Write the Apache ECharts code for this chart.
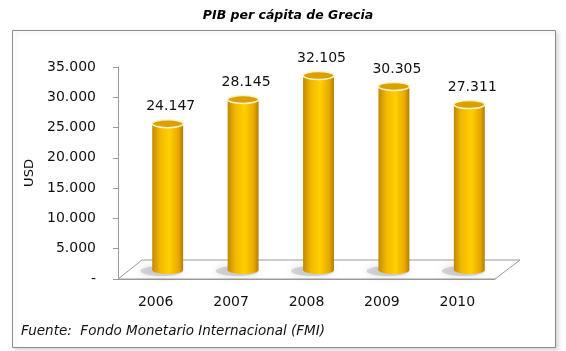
<!DOCTYPE html>
<html>
<head>
<meta charset="utf-8">
<script src="https://cdn.jsdelivr.net/npm/echarts@6/dist/echarts.min.js"></script>
<style>
  html, body { margin: 0; padding: 0; background: #fff; }
  #chart { width: 566px; height: 351px; }
</style>
</head>
<body>
<div id="chart"></div>
<script>
const years = ['2006', '2007', '2008', '2009', '2010'];
const gdpPerCapita = [24147, 28145, 32105, 30305, 27311];
const yTicks = [0, 5000, 10000, 15000, 20000, 25000, 30000, 35000];

const fmt = (v) => (v === 0 ? '-' : String(v).replace(/\B(?=(\d{3})+(?!\d))/g, '.'));

// axes grid and a second grid for the bars, shifted back into the "depth"
const axisGrid = { left: 118, top: 67, width: 377, height: 212 };
const depth = { dx: 12, dy: 9 };

const FONT = 'DejaVu Sans';

function renderCylinder(params, api) {
  const top = api.coord([api.value(0), api.value(1)]);
  const base = api.coord([api.value(0), 0]);
  const w = api.size([1, 0])[0] * 0.41;
  const rx = w / 2;
  const ry = 4;
  const bodyFill = new echarts.graphic.LinearGradient(0, 0, 1, 0, [
    { offset: 0, color: '#C08A05' },
    { offset: 0.25, color: '#F2B800' },
    { offset: 0.55, color: '#FFD000' },
    { offset: 0.85, color: '#E8A800' },
    { offset: 1, color: '#B07E00' },
  ]);
  return {
    type: 'group',
    children: [
      {
        type: 'ellipse',
        shape: { cx: base[0] - 6, cy: base[1] + 1, rx: rx + 6, ry: ry + 1 },
        style: { fill: 'rgba(150,150,150,0.35)', shadowBlur: 8, shadowColor: 'rgba(90,90,90,0.6)' },
      },
      {
        type: 'ellipse',
        shape: { cx: base[0], cy: base[1], rx: rx, ry: ry },
        style: { fill: bodyFill },
      },
      {
        type: 'rect',
        shape: { x: top[0] - rx, y: top[1], width: w, height: base[1] - top[1] },
        style: { fill: bodyFill },
      },
      {
        type: 'ellipse',
        shape: { cx: top[0], cy: top[1], rx: rx, ry: ry },
        style: { fill: '#D9A000', stroke: '#FFF2C4', lineWidth: 1.5 },
      },
      {
        type: 'text',
        style: {
          x: top[0] + 3,
          y: top[1] - 10,
          text: fmt(api.value(1)),
          align: 'center',
          verticalAlign: 'bottom',
          fill: '#111',
          font: '14px "' + FONT + '"',
        },
      },
    ],
  };
}

const chart = echarts.init(document.getElementById('chart'), null, { renderer: 'canvas' });

const g = axisGrid;
const floor = [
  [g.left, g.top + g.height],
  [g.left + g.width, g.top + g.height],
  [g.left + g.width + 2 * depth.dx + 1, g.top + g.height - 2 * depth.dy - 1],
  [g.left + 2 * depth.dx, g.top + g.height - 2 * depth.dy - 1],
];

chart.setOption({
  animation: false,
  backgroundColor: '#fff',
  title: {
    text: 'PIB per cápita de Grecia',
    left: 283,
    textAlign: 'center',
    top: 4,
    textStyle: { fontFamily: FONT, fontSize: 12.5, fontWeight: 'bold', fontStyle: 'italic', color: '#000' },
  },
  graphic: [
    {
      type: 'rect',
      z: -10,
      shape: { x: 12.5, y: 30.5, width: 543, height: 317 },
      style: { fill: '#fff', stroke: '#8c8c8c', lineWidth: 1, shadowBlur: 4, shadowOffsetX: 2, shadowOffsetY: 2, shadowColor: 'rgba(0,0,0,0.15)' },
    },
    {
      type: 'polygon',
      z: -5,
      shape: { points: floor },
      style: { fill: '#fff', stroke: '#9a9a9a', lineWidth: 1 },
    },
    {
      type: 'text',
      left: 21,
      top: 324,
      style: {
        text: 'Fuente:  Fondo Monetario Internacional (FMI)',
        font: 'italic 13.5px "' + FONT + '"',
        fill: '#111',
      },
    },
  ],
  grid: [
    { left: g.left, top: g.top, width: g.width, height: g.height },
    { left: g.left + depth.dx, top: g.top - depth.dy, width: g.width, height: g.height },
  ],
  xAxis: [
    {
      gridIndex: 0,
      type: 'category',
      data: years,
      axisLine: { lineStyle: { color: '#9a9a9a' } },
      axisTick: { length: 4, lineStyle: { color: '#9a9a9a' } },
      axisLabel: { fontFamily: FONT, fontSize: 14, color: '#111', margin: 16 },
    },
    { gridIndex: 1, type: 'category', data: years, show: false },
  ],
  yAxis: [
    {
      gridIndex: 0,
      type: 'value',
      min: yTicks[0],
      max: yTicks[yTicks.length - 1],
      interval: yTicks[1] - yTicks[0],
      name: 'USD',
      nameLocation: 'middle',
      nameGap: 80,
      nameTextStyle: { fontFamily: FONT, fontSize: 13, color: '#111' },
      axisLine: { show: true, lineStyle: { color: '#9a9a9a' } },
      axisTick: { show: true, length: 5, lineStyle: { color: '#9a9a9a' } },
      splitLine: { show: false },
      axisLabel: { fontFamily: FONT, fontSize: 14, color: '#111', margin: 22, formatter: fmt },
    },
    {
      gridIndex: 1,
      type: 'value',
      min: yTicks[0],
      max: yTicks[yTicks.length - 1],
      show: false,
      splitLine: { show: false },
    },
  ],
  series: [
    {
      type: 'custom',
      xAxisIndex: 1,
      yAxisIndex: 1,
      data: gdpPerCapita.map((v, i) => [i, v]),
      renderItem: renderCylinder,
    },
  ],
});
</script>
</body>
</html>
